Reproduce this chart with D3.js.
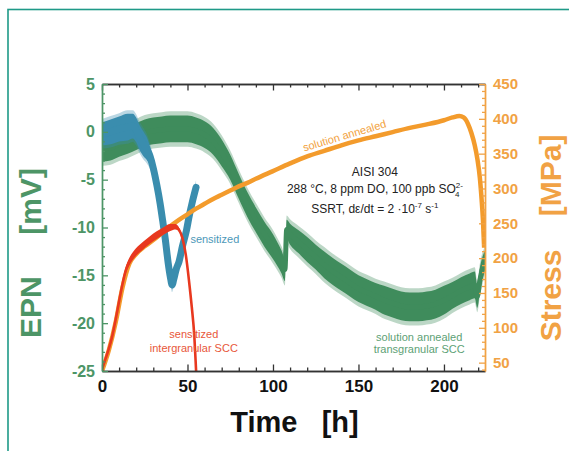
<!DOCTYPE html>
<html><head><meta charset="utf-8">
<script src="https://cdn.jsdelivr.net/npm/d3@7"></script>
<style>
body{margin:0;background:#fff}
svg{display:block}
text{font-family:"Liberation Sans",Arial,Helvetica,sans-serif}
</style>
</head><body>
<svg id="c" width="569" height="451"></svg>
<script>
// ---- tick labels ----
const timeTicks = [0, 50, 100, 150, 200];
const epnTicks = [5, 0, -5, -10, -15, -20, -25];
const stressTicks = [50, 100, 150, 200, 250, 300, 350, 400, 450];

// ---- series: [time h, EPN mV (centre), noise half-width mV] ----
const epnAnnealed = [
  [0,-1.8,1.3],[5,-1.7,1.3],[10,-1.3,1.3],[15,-1.0,1.3],[20,-0.5,1.4],[25,-0.1,1.4],
  [30,0.1,1.4],[35,0.2,1.4],[40,0.3,1.4],[45,0.3,1.4],[50,0.3,1.4],[55,0.1,1.4],
  [60,-0.3,1.4],[65,-1.0,1.4],[70,-2.2,1.4],[75,-3.7,1.3],[80,-5.7,1.3],[85,-7.6,1.3],
  [90,-9.2,1.3],[95,-10.7,1.3],[100,-12.0,1.3],[105,-13.6,1.2],[107,-14.4,1.2],
  [108,-10.2,1.0],[110,-10.7,1.1],[115,-11.5,1.2],[120,-12.3,1.3],[125,-13.1,1.3],
  [130,-13.9,1.4],[135,-14.6,1.4],[140,-15.2,1.4],[145,-15.8,1.4],[150,-16.4,1.4],
  [155,-16.8,1.4],[160,-17.2,1.4],[165,-17.6,1.5],[170,-17.9,1.5],[175,-18.2,1.5],
  [180,-18.3,1.5],[185,-18.3,1.5],[190,-18.2,1.5],[195,-18.0,1.5],[200,-17.6,1.5],
  [205,-17.1,1.4],[210,-16.6,1.4],[215,-16.2,1.4],[218,-16.0,1.4],[219.5,-17.2,1.2],
  [221,-15.5,1.3],[224,-13.4,1.0]
];
const epnSensitized = [
  [0,-0.2,1.2],[5,0.0,1.3],[10,0.3,1.3],[15,0.5,1.4],[18,0.6,1.3],[20,0.2,1.3],
  [22,-0.6,1.3],[24,-1.2,1.3],[26,-1.7,1.2],[28,-2.5,1.0],[30,-3.8,0.8],[32,-5.5,0.6],
  [34,-7.5,0.5],[35.5,-9.3,0.5],[37,-11.2,0.5],[38.7,-13.7,0.4],[40,-15.2,0.4],
  [41,-16.0,0.4],[42,-15.4,0.4],[43.5,-14.3,0.4],[45,-13.6,0.4],[47,-12.0,0.4],
  [49.4,-10.3,0.4],[51,-8.8,0.4],[53,-7.2,0.4],[55,-5.8,0.4]
];
// ---- series: [time h, stress MPa] ----
const stressAnnealed = [
  [0,38],[4,68],[8,108],[12,158],[16,192],[20,206],[25,217],[30,226],[35,236],
  [40,246],[45,255],[50,263],[55,271],[60,278],[65,285],[70,291],[75,297],[80,303],
  [85,308],[90,314],[100,325],[110,336],[120,346],[130,354],[140,362],[150,369],
  [160,375],[170,381],[180,387],[190,392],[200,398],[205,402],[209,404],[211.5,402],
  [214,393],[216,380],[218,362],[219.5,343],[221,315],[222,285],[222.8,255],[223.5,215]
];
// [time h, stress MPa, noise half-width MPa]
const stressSensitized = [
  [0,40,1],[2,55,1],[4,70,1.5],[6,88,2],[8,112,2.5],[10,138,3],[12,163,4],[14,183,5],
  [16,195,5.5],[18,203,5.5],[20,209,5.5],[24,218,5.5],[28,226,5.5],[32,233,5.5],
  [36,239,5.5],[40,244,5],[43,245,4],[45,241,3],[47,229,2],[49,205,1],[51,165,1],
  [52.5,130,1],[54,88,1],[55,40,1],[55.2,30,1]
];

// ---- layout ----
const L = 102, R = 485, T = 84, B = 371;
const svg = d3.select("#c");

svg.append("rect").attr("x", 8).attr("y", 9.5).attr("width", 640).attr("height", 540)
  .attr("fill", "none").attr("stroke", "#1f9a88").attr("stroke-width", 1.6);

const x = d3.scaleLinear().domain([0, 224]).range([L, R]);
const yL = d3.scaleLinear().domain([-25, 5]).range([B, T]);
const yR = d3.scaleLinear().domain([38, 450]).range([B, T]);

const GREEN = "#3f8c5c", BLUE = "#3a8dae", ORANGE = "#f39b2c", RED = "#e8381f";
const GREEN_T = "#4d9566", ORANGE_T = "#f1a244";

svg.append("clipPath").attr("id", "clip").append("rect")
  .attr("x", L).attr("y", T).attr("width", R - L).attr("height", B - T);
const g = svg.append("g").attr("clip-path", "url(#clip)");

function band(data, ys, fill, lw, fringe) {
  const area = k => d3.area().curve(d3.curveMonotoneX)
    .x(d => x(d[0])).y0(d => ys(d[1] - d[2] - k)).y1(d => ys(d[1] + d[2] + k));
  const line = d3.line().curve(d3.curveMonotoneX).x(d => x(d[0])).y(d => ys(d[1]));
  if (fringe) {
    g.append("path").attr("d", area(fringe)(data)).attr("fill", fill).attr("opacity", 0.35);
  }
  g.append("path").attr("d", area(0)(data)).attr("fill", fill);
  g.append("path").attr("d", line(data)).attr("fill", "none").attr("stroke", fill)
    .attr("stroke-width", lw).attr("stroke-linejoin", "round").attr("stroke-linecap", "round");
}
band(epnAnnealed, yL, GREEN, 5, 0.45);
band(epnSensitized, yL, BLUE, 7, 0.35);
g.append("path")
  .attr("d", d3.line().curve(d3.curveMonotoneX).x(d => x(d[0])).y(d => yR(d[1]))(stressAnnealed))
  .attr("fill", "none").attr("stroke", ORANGE).attr("stroke-width", 4.5)
  .attr("stroke-linejoin", "round");
band(stressSensitized, yR, RED, 2.6, 0);

// ---- axes ----
function styleAxis(sel, color, fontSize, textColor) {
  sel.select(".domain").attr("stroke", color).attr("stroke-width", 1.4);
  sel.selectAll(".tick line").attr("stroke", color).attr("stroke-width", 1.3);
  sel.selectAll(".tick text").attr("fill", textColor || color)
    .style("font-size", fontSize + "px").style("font-weight", "bold")
    .style("font-family", '"Liberation Sans",Arial,sans-serif');
}
const timeMinor = d3.range(0, 225, 10).filter(v => !timeTicks.includes(v));
const epnMinor = d3.range(-25, 6, 1).filter(v => !epnTicks.includes(v));
const stressMinor = d3.range(40, 451, 10).filter(v => !stressTicks.includes(v));

const AX = "#333";
svg.append("g").attr("transform", `translate(0,${B})`)
  .call(d3.axisBottom(x).tickValues(timeMinor).tickSize(-3.5).tickSizeOuter(0).tickFormat(""))
  .call(s => styleAxis(s, AX, 17));
svg.append("g").attr("transform", `translate(0,${B})`)
  .call(d3.axisBottom(x).tickValues(timeTicks).tickSize(-6.5).tickSizeOuter(0).tickPadding(9).tickFormat(d => String(d)))
  .call(s => styleAxis(s, AX, 17, "#111"));
svg.append("g").attr("transform", `translate(0,${T})`)
  .call(d3.axisTop(x).tickValues(timeMinor).tickSize(-3.5).tickSizeOuter(0).tickFormat(""))
  .call(s => styleAxis(s, AX, 17));
svg.append("g").attr("transform", `translate(0,${T})`)
  .call(d3.axisTop(x).tickValues(timeTicks).tickSize(-6.5).tickSizeOuter(0).tickFormat(""))
  .call(s => styleAxis(s, AX, 17));

svg.append("g").attr("transform", `translate(${L},0)`)
  .call(d3.axisLeft(yL).tickValues(epnMinor).tickSize(-3).tickSizeOuter(0).tickFormat(""))
  .call(s => styleAxis(s, GREEN_T, 16));
svg.append("g").attr("transform", `translate(${L},0)`)
  .call(d3.axisLeft(yL).tickValues(epnTicks).tickSize(-6).tickSizeOuter(0).tickPadding(7).tickFormat(d => String(d)))
  .call(s => styleAxis(s, GREEN_T, 16));

svg.append("g").attr("transform", `translate(${R},0)`)
  .call(d3.axisRight(yR).tickValues(stressMinor).tickSize(-3).tickSizeOuter(0).tickFormat(""))
  .call(s => styleAxis(s, ORANGE_T, 15));
svg.append("g").attr("transform", `translate(${R},0)`)
  .call(d3.axisRight(yR).tickValues(stressTicks).tickSize(-6).tickSizeOuter(0).tickPadding(8).tickFormat(d => String(d)))
  .call(s => styleAxis(s, ORANGE_T, 15));

// ---- axis titles ----
svg.append("text").attr("x", (L + R) / 2 + 1).attr("y", 432).attr("text-anchor", "middle")
  .style("white-space", "pre").attr("font-size", 29).attr("font-weight", "bold").attr("fill", "#111")
  .text("Time   [h]");
svg.append("text").attr("transform", "translate(41,253) rotate(-90)").attr("text-anchor", "middle")
  .style("white-space", "pre").attr("font-size", 30).attr("font-weight", "bold").attr("fill", GREEN_T)
  .text("EPN     [mV]");
svg.append("text").attr("transform", "translate(561,238) rotate(-90)").attr("text-anchor", "middle")
  .style("white-space", "pre").attr("font-size", 30).attr("font-weight", "bold").attr("fill", ORANGE_T)
  .text("Stress    [MPa]");

// ---- annotations (anchored in data coordinates) ----
const ann = svg.append("g").attr("font-size", 12).attr("fill", "#222").attr("text-anchor", "middle");
ann.append("text").attr("x", x(159.6)).attr("y", yL(-4.6)).text("AISI 304");
const t2 = ann.append("text").attr("x", x(159.6)).attr("y", yL(-6.4));
t2.append("tspan").text("288 °C, 8 ppm DO, 100 ppb SO");
t2.append("tspan").attr("font-size", 8).attr("dy", -5).text("2-");
t2.append("tspan").attr("font-size", 8).attr("dx", -8).attr("dy", 9).text("4");
const t3 = ann.append("text").attr("x", x(159.6)).attr("y", yL(-8.5));
t3.append("tspan").text("SSRT, dε/dt = 2 ·10");
t3.append("tspan").attr("font-size", 8).attr("dy", -5).text("-7");
t3.append("tspan").attr("dy", 5).text(" s");
t3.append("tspan").attr("font-size", 8).attr("dy", -5).text("-1");

const small = svg.append("g").attr("font-size", 11).attr("text-anchor", "middle");
small.append("text").attr("x", x(66)).attr("y", yL(-11.6)).attr("fill", "#4c98b8").text("sensitized");
small.append("text").attr("x", x(53.7)).attr("y", yL(-21.5)).attr("fill", "#e8573a").text("sensitized");
small.append("text").attr("x", x(53.7)).attr("y", yL(-23.0)).attr("fill", "#e8573a").text("intergranular SCC");
small.append("text").attr("x", x(185.5)).attr("y", yL(-21.9)).attr("fill", "#5da175").text("solution annealed");
small.append("text").attr("x", x(185.5)).attr("y", yL(-23.1)).attr("fill", "#5da175").text("transgranular SCC");
small.append("text").attr("transform", `translate(${x(141.8)},${yR(376)}) rotate(-16.5)`)
  .attr("dy", "0.35em").attr("fill", "#f2a23e").text("solution annealed");
</script>
</body></html>
